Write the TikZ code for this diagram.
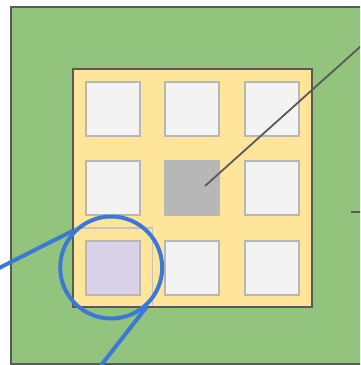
\documentclass[tikz,border=0pt]{standalone}
\usetikzlibrary{positioning}
\definecolor{fieldgreen}{HTML}{93C47D}
\definecolor{boardyellow}{HTML}{FFE599}
\definecolor{cellwhite}{HTML}{F3F3F3}
\definecolor{cellgray}{HTML}{B7B7B7}
\definecolor{celllilac}{HTML}{D9D2E9}
\definecolor{linegray}{HTML}{595959}
\definecolor{lensblue}{HTML}{3C78D8}

\begin{document}
\begin{tikzpicture}[x=1pt,y=-1pt,
    cell/.style={draw=cellgray, fill=cellwhite, line width=2pt, minimum size=54pt, inner sep=0pt, outer sep=0pt},
    pointer/.style={draw=linegray, line width=1.8pt},
    lens/.style={circle, draw=lensblue, line width=4pt, minimum size=102pt, inner sep=0pt},
    lensline/.style={draw=lensblue, line width=4pt},
    node distance=25.4pt]
  \useasboundingbox (0,0) rectangle (360,365);
  \clip (0,0) rectangle (360,365);

  % field and board
  \draw[fill=fieldgreen, draw=linegray, line width=2pt] (11,7) rectangle (372,364);
  \node [fill=boardyellow, minimum width=238.7pt, minimum height=238pt, inner sep=0pt] (board) at (192.35,188) {};

  % the cells
  \node [cell] (c11) at (112.7,108.7) {};
  \node [cell, right=of c11] (c12) {};
  \node [cell, right=of c12] (c13) {};
  \node [cell, below=of c11] (c21) {};
  \node [cell, below=of c12, fill=cellgray] (c22) {};
  \node [cell, below=of c13] (c23) {};
  \node [cell, below=of c21, fill=celllilac] (c31) {};
  \node [cell, below=of c22] (c32) {};
  \node [cell, below=of c23] (c33) {};

  \node [draw=cellgray!85, line width=1.8pt, minimum size=79.4pt, inner sep=0pt] (frame31) at (c31) {};
  \draw[linegray, line width=2pt] (board.north west) rectangle (board.south east);

  % pointers
  \coordinate (tip) at (205,186);
  \coordinate (far) at (380,29);
  \draw[pointer] (tip) -- (far);
  \coordinate (mark) at (351,212);
  \coordinate (markend) at (372,212);
  \draw[pointer] (mark) -- (markend);

  % lens
  \node [lens, xshift=-1.5pt] (lens) at (c31) {};
  \coordinate (lensfar1) at (-20,277.6);
  \coordinate (lensfar2) at (88,382);
  \draw[lensline] (lens.136.7) -- (lensfar1);
  \draw[lensline] (lens.-48.2) -- (lensfar2);
\end{tikzpicture}
\end{document}
